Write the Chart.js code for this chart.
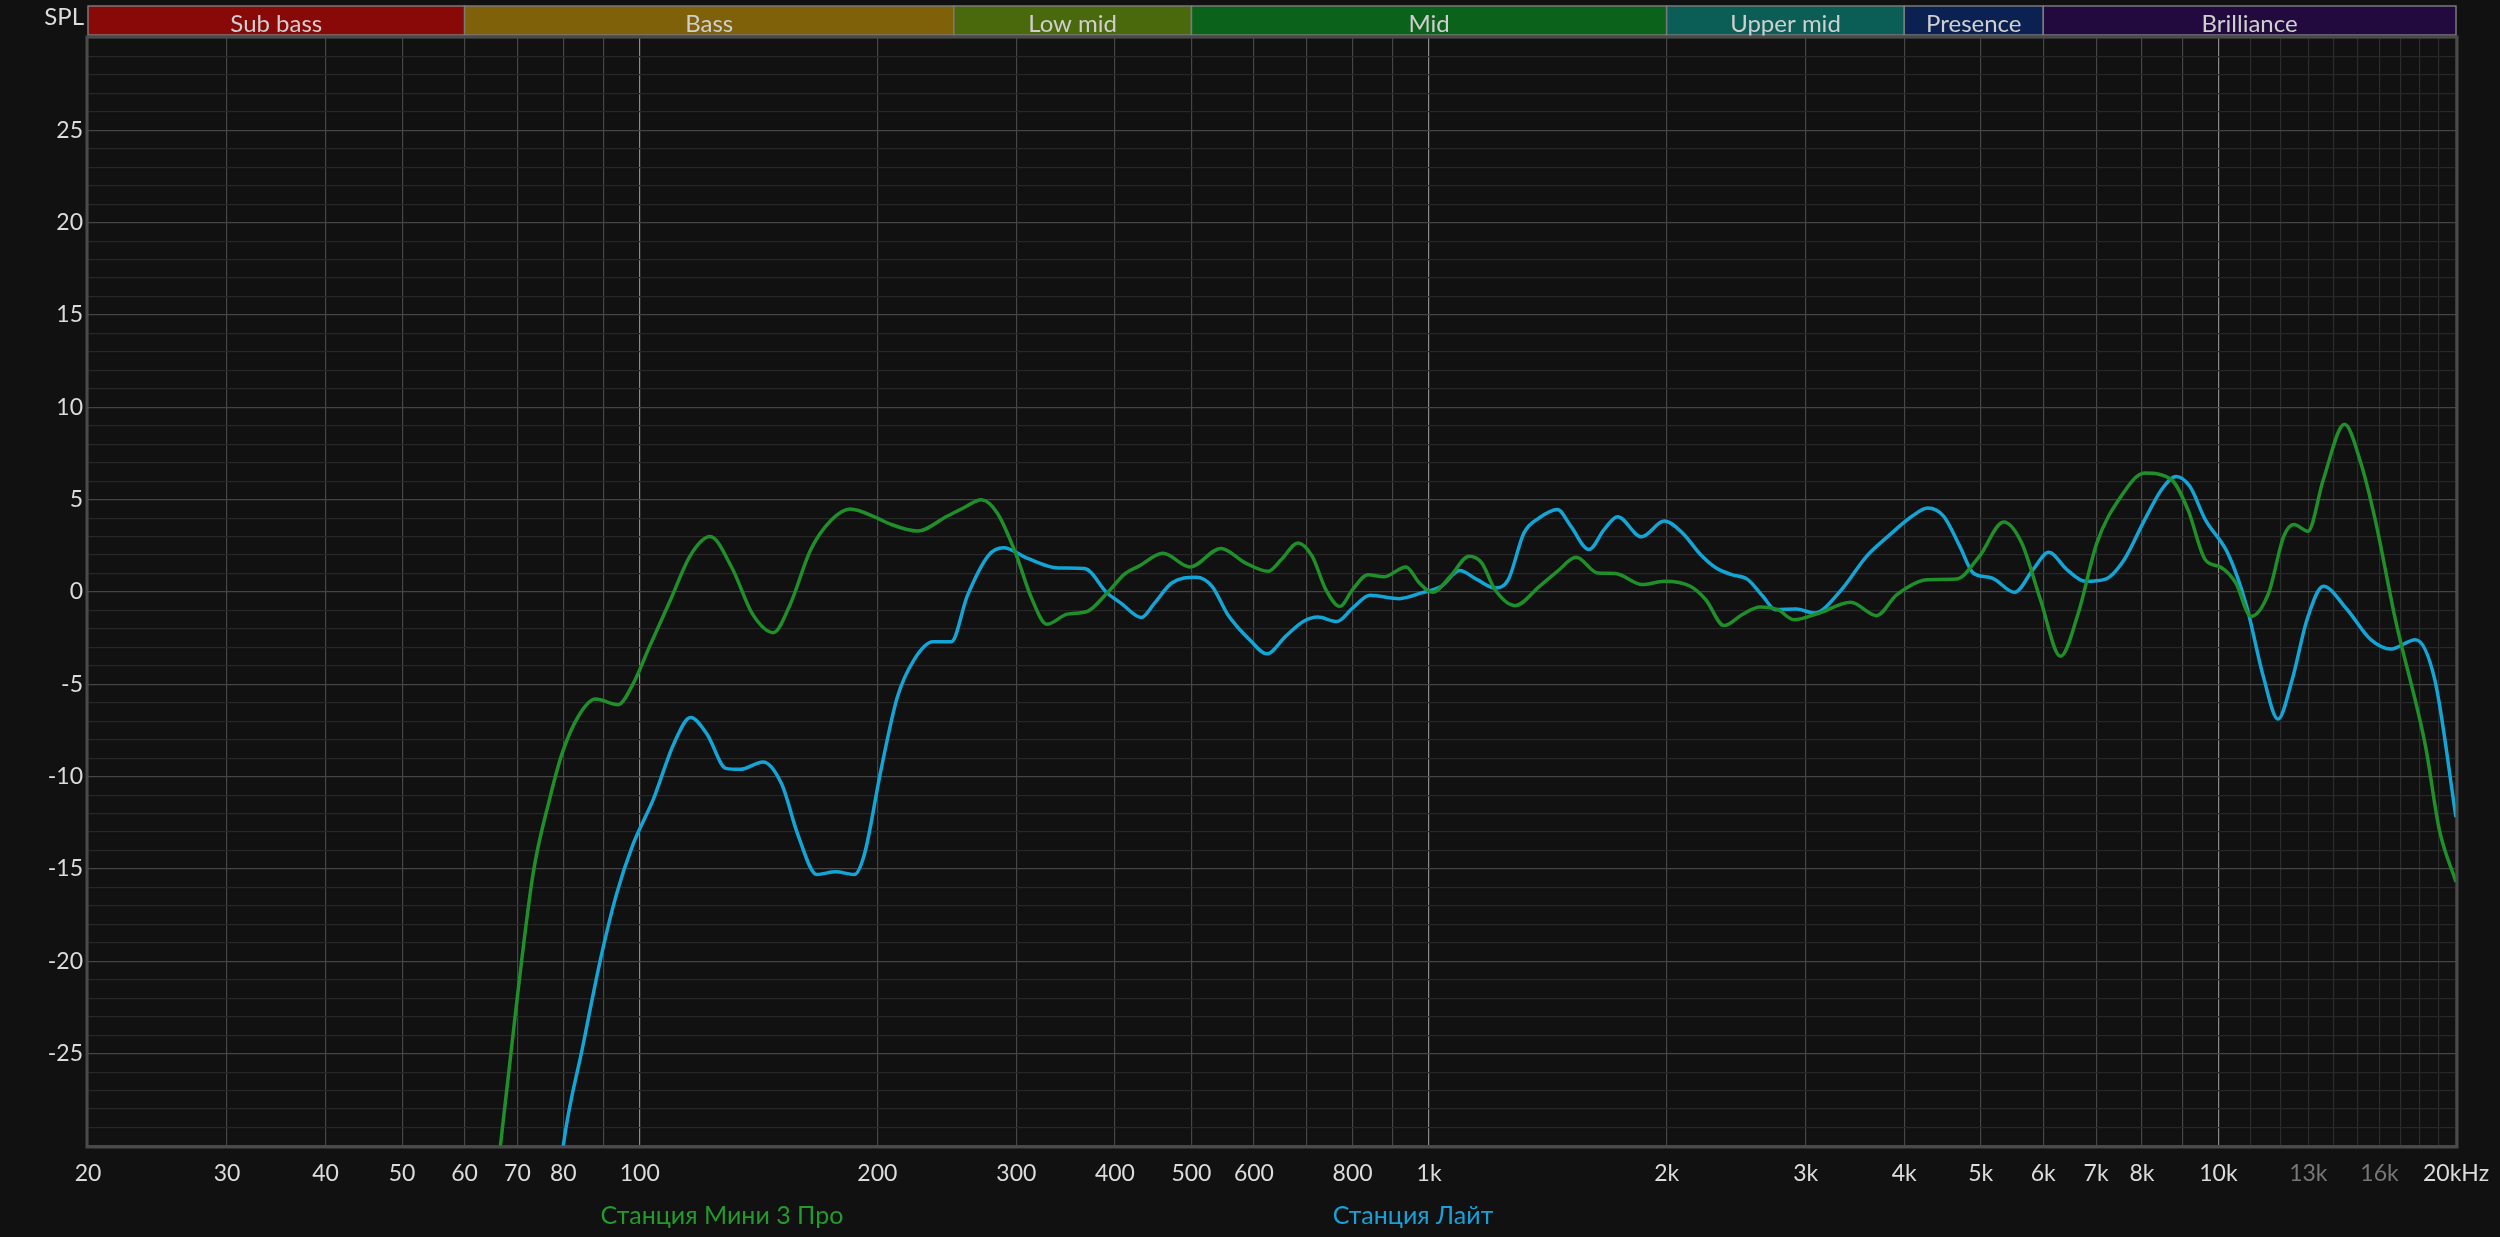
<!DOCTYPE html>
<html>
<head>
<meta charset="utf-8">
<script src="https://cdn.jsdelivr.net/npm/chart.js@4"></script>
<style>
    html, body { margin: 0; padding: 0; background: #111111; }
    #wrap { width: 2500px; height: 1237px; position: relative; }
</style>
</head>
<body>
<div id="wrap"><canvas id="frChart"></canvas></div>
<script>
// series names
const seriesNames = ['Станция Мини 3 Про', 'Станция Лайт'];

// green series (Hz / dB)
const greenFreq = [63, 66.6, 69.9, 73.3, 76.9, 79.8, 83.7, 87.9, 93.9, 98, 102.8, 109.2, 116, 122.8, 130.9, 139, 147.7, 155, 164.7, 174.9, 184.7, 200, 207, 225, 245, 257, 271, 284, 300, 313, 328, 348, 369, 391, 412, 429, 460, 498, 545, 585, 625, 650, 682, 711, 740, 771, 800, 837, 876, 935, 972, 1010, 1064, 1124, 1166, 1212, 1285, 1380, 1454, 1536, 1635, 1722, 1862, 1986, 2143, 2242, 2364, 2491, 2627, 2768, 2898, 3121, 3422, 3688, 3914, 4283, 4653, 4979, 5345, 5634, 5951, 6309, 6646, 7014, 7504, 8064, 8721, 9150, 9625, 10061, 10519, 11000, 11580, 12100, 12466, 12985, 13580, 14450, 15151, 15800, 16760, 18300, 19050, 20000];
const greenSpl = [-38, -30, -22.1, -15.2, -11.2, -8.7, -6.7, -5.8, -6.1, -5.0, -3.0, -0.5, 2.0, 3.0, 1.3, -1.2, -2.2, -0.7, 2.3, 3.9, 4.5, 4.0, 3.7, 3.3, 4.1, 4.55, 5.0, 4.25, 2.0, -0.24, -1.75, -1.2, -1.05, -0.05, 1.0, 1.4, 2.1, 1.36, 2.36, 1.58, 1.12, 1.76, 2.66, 1.94, 0.13, -0.78, 0.13, 0.94, 0.82, 1.36, 0.49, -0.02, 0.85, 1.94, 1.58, 0.13, -0.74, 0.31, 1.12, 1.88, 1.03, 1.0, 0.4, 0.58, 0.31, -0.42, -1.82, -1.23, -0.81, -0.96, -1.5, -1.14, -0.56, -1.28, -0.14, 0.67, 0.7, 1.93, 3.79, 2.65, -0.42, -3.48, -1.14, 2.65, 5.09, 6.44, 6.08, 4.46, 1.75, 1.35, 0.49, -1.32, -0.05, 3.01, 3.65, 3.29, 6.08, 9.08, 6.99, 3.92, -1.5, -8.36, -12.87, -15.7];

// blue series (Hz / dB)
const blueFreq = [76.5, 80, 84.7, 89.5, 93.4, 98, 104.1, 110.5, 116, 121.7, 128.6, 134.1, 143.3, 151.3, 158.8, 167.6, 177, 187, 192.6, 202, 212, 222.4, 235.2, 248.1, 260.1, 276.8, 288.9, 309, 339, 366, 391, 407, 432, 449, 472, 507, 531, 556, 593, 623, 658, 693, 723, 764, 800, 842, 917, 978, 1037, 1093, 1151, 1212, 1260, 1319, 1380, 1454, 1512, 1594, 1667, 1733, 1858, 1986, 2095, 2209, 2311, 2418, 2530, 2648, 2748, 2920, 3077, 3318, 3583, 3814, 4091, 4283, 4488, 4704, 4891, 5164, 5519, 5822, 6096, 6429, 6780, 7193, 7596, 8067, 8500, 8840, 9200, 9625, 10300, 10860, 11400, 11900, 12400, 12950, 13580, 14540, 15600, 16550, 17770, 18800, 20000];
const blueSpl = [-38, -30, -24.6, -19.6, -16.4, -13.7, -11.2, -8.2, -6.8, -7.7, -9.55, -9.6, -9.2, -10.4, -13.2, -15.3, -15.15, -15.3, -14.2, -9.7, -5.7, -3.7, -2.7, -2.7, -0.2, 2.0, 2.4, 1.85, 1.3, 1.27, -0.05, -0.6, -1.38, -0.6, 0.49, 0.8, 0.31, -1.23, -2.6, -3.35, -2.4, -1.6, -1.36, -1.6, -0.87, -0.18, -0.36, -0.05, 0.31, 1.16, 0.67, 0.22, 0.67, 3.2, 4.02, 4.47, 3.57, 2.3, 3.39, 4.08, 2.99, 3.84, 3.19, 2.02, 1.3, 0.94, 0.7, -0.23, -0.96, -0.92, -1.14, 0.04, 1.93, 3.01, 4.1, 4.55, 4.1, 2.47, 1.03, 0.76, -0.02, 1.21, 2.15, 1.21, 0.58, 0.7, 1.75, 3.92, 5.63, 6.26, 5.72, 3.92, 2.02, -0.78, -4.57, -6.88, -4.75, -1.5, 0.31, -0.92, -2.58, -3.09, -2.58, -4.75, -12.2];

// x axis labels
const xTickValues = [20, 30, 40, 50, 60, 70, 80, 100, 200, 300, 400, 500, 600, 800, 1000, 2000, 3000, 4000, 5000, 6000, 7000, 8000, 10000, 13000, 16000, 20000];
const xTickLabels = ['20', '30', '40', '50', '60', '70', '80', '100', '200', '300', '400', '500', '600', '800', '1k', '2k', '3k', '4k', '5k', '6k', '7k', '8k', '10k', '13k', '16k', '20kHz'];
const xDimLabels = [13000, 16000];

// y axis labels
const yTickValues = [25, 20, 15, 10, 5, 0, -5, -10, -15, -20, -25];

// frequency bands
const bandNames = ['Sub bass', 'Bass', 'Low mid', 'Mid', 'Upper mid', 'Presence', 'Brilliance'];
const bandEdges = [20, 60, 250, 500, 2000, 4000, 6000, 20000];
const bandColors = ['#890909', '#7f610a', '#4a690c', '#0b631b', '#0a5e55', '#0a2152', '#220a3e'];

const lineColors = ['#1f8f2a', '#12a5d6'];
const legendColors = ['#239b2b', '#15a2da'];
const textColor = '#dcdcdc';
const fontFamily = 'Lato, "Noto Sans", sans-serif';

// all vertical grid positions: 20..90, 100..900, 1k..9k, 10k..20k
const gridFreqs = [];
[10, 100, 1000, 10000].forEach(dec => {
    for (let m = 1; m <= 9; m++) {
        const f = dec * m;
        if (f >= 20 && f <= 20000) gridFreqs.push(f);
    }
    if (dec === 10000) {
        for (let k = 11; k <= 20; k++) gridFreqs.push(k * 1000);
    }
});
const uniqGrid = [...new Set(gridFreqs)].sort((a, b) => a - b);

const decorPlugin = {
    id: 'decor',
    afterDraw(chart) {
        const { ctx, chartArea: a, scales: { x } } = chart;
        ctx.save();

        // band bar
        const top = 6, bottom = 35;
        for (let i = 0; i < bandNames.length; i++) {
            const x0 = x.getPixelForValue(bandEdges[i]);
            const x1 = x.getPixelForValue(bandEdges[i + 1]);
            ctx.fillStyle = bandColors[i];
            ctx.fillRect(x0, top, x1 - x0, bottom - top);
            ctx.strokeStyle = '#7a7a7a';
            ctx.lineWidth = 1.5;
            ctx.strokeRect(x0, top, x1 - x0, bottom - top);
            ctx.fillStyle = '#cfcfcf';
            ctx.font = '24px ' + fontFamily;
            ctx.textAlign = 'center';
            ctx.textBaseline = 'alphabetic';
            ctx.fillText(bandNames[i], (x0 + x1) / 2, 32);
        }

        // SPL caption
        ctx.fillStyle = textColor;
        ctx.font = '24px ' + fontFamily;
        ctx.textAlign = 'right';
        ctx.fillText('SPL', 84, 25);

        // plot frame
        ctx.strokeStyle = '#4a4a4a';
        ctx.lineWidth = 3;
        ctx.strokeRect(a.left - 1, a.top - 1, a.right - a.left + 2, a.bottom - a.top + 2);

        // legend names
        ctx.font = '25px ' + fontFamily;
        ctx.textAlign = 'center';
        ctx.textBaseline = 'middle';
        ctx.fillStyle = legendColors[0];
        ctx.fillText(seriesNames[0], 722, 1216);
        ctx.fillStyle = legendColors[1];
        ctx.fillText(seriesNames[1], 1413, 1216);
        ctx.restore();
    }
};

const ctx = document.getElementById('frChart').getContext('2d');
const frChart = new Chart(ctx, {
    type: 'line',
    data: {
        datasets: [
            {
                label: seriesNames[0],
                data: greenFreq.map((f, i) => ({ x: f, y: greenSpl[i] })),
                borderColor: lineColors[0],
                borderWidth: 3.5,
                pointRadius: 0,
                cubicInterpolationMode: 'monotone',
                fill: false,
            },
            {
                label: seriesNames[1],
                data: blueFreq.map((f, i) => ({ x: f, y: blueSpl[i] })),
                borderColor: lineColors[1],
                borderWidth: 3.5,
                pointRadius: 0,
                cubicInterpolationMode: 'monotone',
                fill: false,
            },
        ],
    },
    options: {
        responsive: true,
        maintainAspectRatio: false,
        animation: false,
        layout: { padding: { top: 38, right: 44, left: 0, bottom: 0 } },
        plugins: {
            legend: { display: false },
            tooltip: { enabled: false },
        },
        scales: {
            x: {
                type: 'logarithmic',
                min: 20,
                max: 20000,
                afterBuildTicks(scale) {
                    scale.ticks = uniqGrid.map(v => ({ value: v }));
                },
                afterFit(scale) {
                    scale.height = 91;
                    scale.paddingLeft = 0;
                    scale.paddingRight = 0;
                },
                ticks: {
                    autoSkip: false,
                    maxRotation: 0,
                    padding: 14,
                    font: { size: 23, family: fontFamily },
                    color: c => xDimLabels.includes(c.tick.value) ? '#777777' : textColor,
                    callback: v => {
                        const i = xTickValues.indexOf(v);
                        return i >= 0 ? xTickLabels[i] : '';
                    },
                },
                grid: {
                    drawTicks: false,
                    lineWidth: 1.2,
                    color: c => {
                        const v = c.tick ? c.tick.value : 0;
                        if (v === 100 || v === 1000 || v === 10000) return '#8a8a8a';
                        if (v > 10000) return '#2c2c2c';
                        return '#464646';
                    },
                },
                border: { display: false },
            },
            y: {
                min: -30,
                max: 30,
                afterBuildTicks(scale) {
                    const t = [];
                    for (let v = -30; v <= 30; v++) t.push({ value: v });
                    scale.ticks = t;
                },
                afterFit(scale) {
                    scale.width = 88;
                    scale.paddingTop = 0;
                    scale.paddingBottom = 0;
                },
                ticks: {
                    autoSkip: false,
                    padding: 5,
                    font: { size: 23, family: fontFamily },
                    color: textColor,
                    callback: v => yTickValues.includes(v) ? String(v) : '',
                },
                grid: {
                    drawTicks: false,
                    lineWidth: 1.2,
                    color: c => {
                        const v = c.tick ? c.tick.value : 0;
                        return v % 5 === 0 ? '#444444' : '#272727';
                    },
                },
                border: { display: false },
            },
        },
    },
    plugins: [decorPlugin],
});
</script>
</body>
</html>
